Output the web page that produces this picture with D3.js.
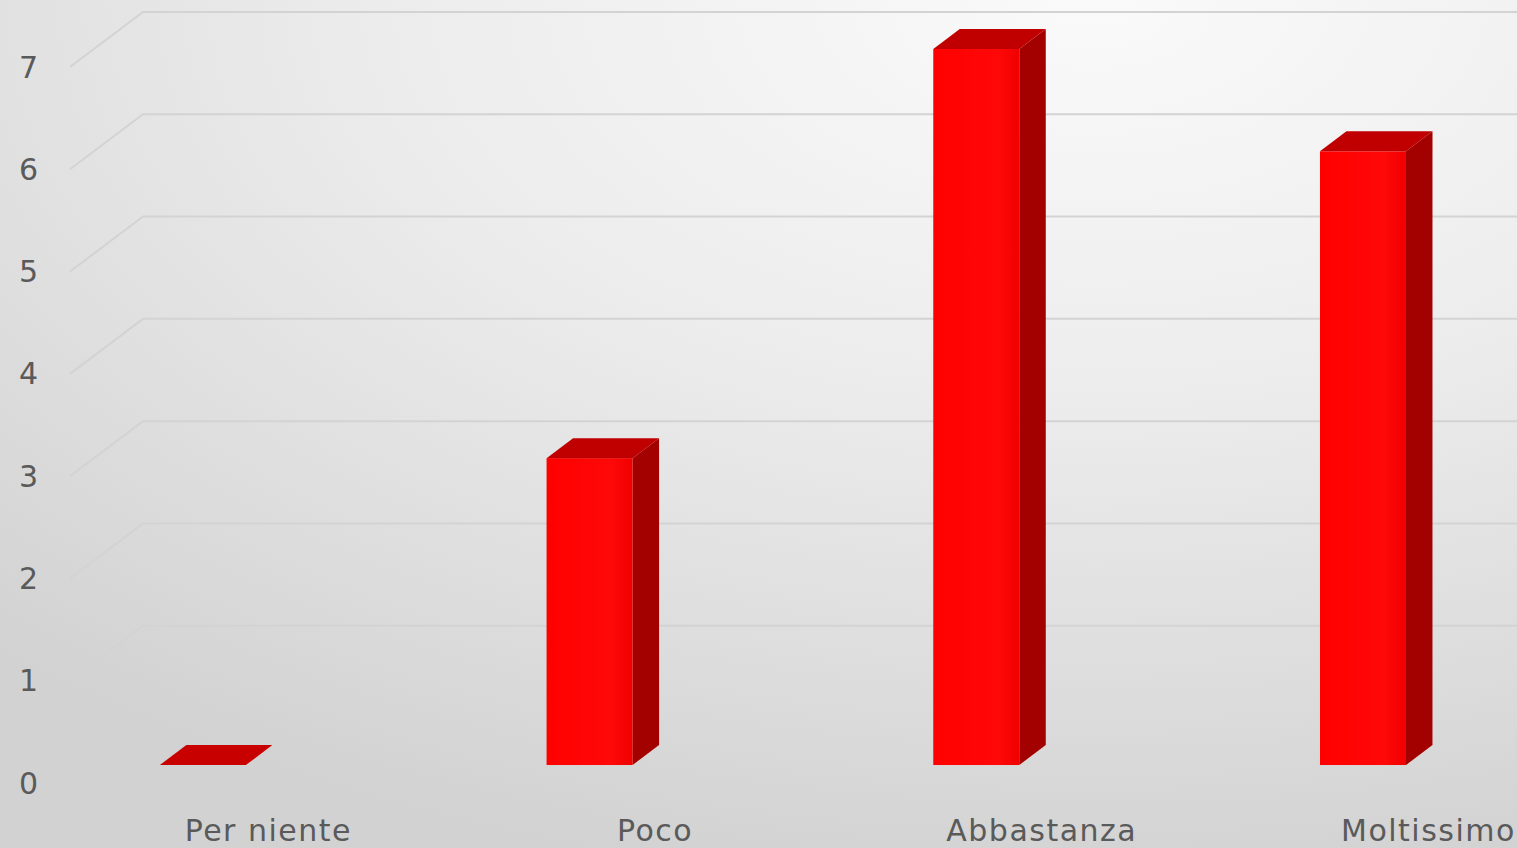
<!DOCTYPE html>
<html>
<head>
<meta charset="utf-8">
<script src="https://cdn.jsdelivr.net/npm/d3@7"></script>
<style>
html,body{margin:0;padding:0;overflow:hidden;background:#e6e6e6;}
</style>
</head>
<body>
<svg id="chart" width="1517" height="848"></svg>
<script>
const categories = ["Per niente", "Poco", "Abbastanza", "Moltissimo"];
const values = [0, 3, 7, 6];
const ticks = [0, 1, 2, 3, 4, 5, 6, 7];

const W = 1517, H = 848;
const svg = d3.select("#chart");
const defs = svg.append("defs");

const bg = defs.append("radialGradient").attr("id","bg")
  .attr("cx","0.72").attr("cy","0").attr("r","1.05")
  .attr("gradientUnits","objectBoundingBox");
bg.append("stop").attr("offset","0").attr("stop-color","#fafafa");
bg.append("stop").attr("offset","0.45").attr("stop-color","#ececec");
bg.append("stop").attr("offset","1").attr("stop-color","#d2d2d2");
svg.append("rect").attr("width",W).attr("height",H).attr("fill","url(#bg)");

const frontGrad = defs.append("linearGradient").attr("id","front").attr("x1","0").attr("x2","1").attr("y1","0").attr("y2","0");
frontGrad.append("stop").attr("offset","0").attr("stop-color","#ff0000");
frontGrad.append("stop").attr("offset","0.75").attr("stop-color","#ff0808");
frontGrad.append("stop").attr("offset","1").attr("stop-color","#f00000");

// 3D projection: front plane scales + depth offset
const depthDX = 73, depthDY = 55;
const y = d3.scaleLinear().domain([0, 7]).range([783, 67]);
const x = d3.scaleBand().domain(categories).range([75, 75 + 4 * 386.7]).padding(0);
const P = (xf, v, z) => [xf + z * depthDX, y(v) - z * depthDY];

// gridlines
const gridVals = ticks.filter(t => t > 0);
const g = svg.append("g");
gridVals.forEach(v => {
  const a = P(70, v, 0), b = P(70, v, 1);
  g.append("polyline")
    .attr("points", [a, b, [W + 5, b[1]]].map(p => p.join(",")).join(" "))
    .attr("fill","none").attr("stroke","#d3d3d3").attr("stroke-width",2);
});

// y tick labels
svg.append("g").selectAll("text").data(ticks).join("text")
  .attr("x", 38).attr("y", d => y(d))
  .attr("text-anchor","end").attr("dominant-baseline","central")
  .attr("font-family","'DejaVu Sans', sans-serif").attr("font-size",30)
  .attr("fill","#5a5a5a").text(d => d);

// bars
const z0 = 0.327, z1 = 0.69, barOff = 61, barW = 86;
const bars = svg.append("g");
categories.forEach((c, i) => {
  const v = values[i];
  const xl = x(c) + barOff, xr = xl + barW;
  const poly = pts => pts.map(p => p.join(",")).join(" ");
  if (v > 0) {
    bars.append("polygon")
      .attr("points", poly([P(xr,0,z0), P(xr,v,z0), P(xr,v,z1), P(xr,0,z1)]))
      .attr("fill","#a30000");
    const f0 = P(xl, v, z0), f1 = P(xr, 0, z0);
    bars.append("rect").attr("x", f0[0]).attr("y", f0[1])
      .attr("width", f1[0]-f0[0]).attr("height", f1[1]-f0[1])
      .attr("fill","url(#front)");
  }
  bars.append("polygon")
    .attr("points", poly([P(xl,v,z0), P(xr,v,z0), P(xr,v,z1), P(xl,v,z1)]))
    .attr("fill", v > 0 ? "#c00000" : "#c80000");
});

// category labels
svg.append("g").selectAll("text").data(categories).join("text")
  .attr("x", d => x(d) + x.bandwidth()/2).attr("y", 830)
  .attr("text-anchor","middle").attr("dominant-baseline","central")
  .attr("font-family","'DejaVu Sans', sans-serif").attr("font-size",30)
  .attr("letter-spacing", 1.5)
  .attr("fill","#5a5a5a").text(d => d);
</script>
</body>
</html>
